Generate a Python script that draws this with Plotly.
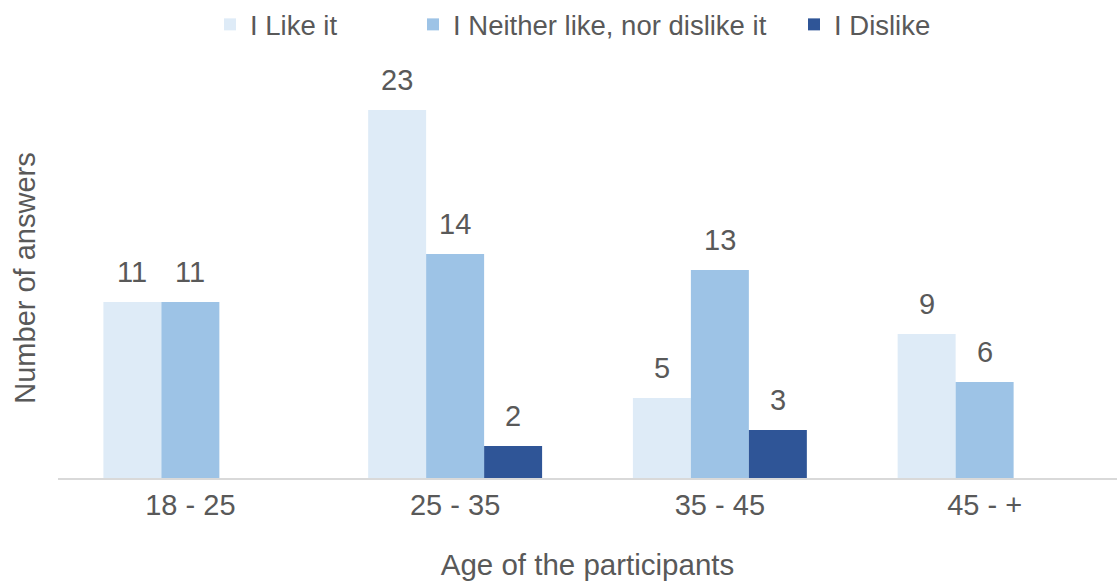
import plotly.graph_objects as go

# Survey results grouped by age bracket
age_groups = ["18 - 25", "25 - 35", "35 - 45", "45 - +"]
like_it = [11, 23, 5, 9]
neither = [11, 14, 13, 6]
dislike = [None, 2, 3, None]

series = [
    ("I Like it", like_it, "#DEEBF7", 158),
    ("I Neither like, nor dislike it", neither, "#9DC3E6", 336),
    ("I Dislike", dislike, "#2F5597", None),
]

TEXT = "#595959"
FONT = "Liberation Sans, Arial, sans-serif"
BARGAP = 0.343

fig = go.Figure()
for name, vals, color, lw in series:
    kw = {"legendwidth": lw} if lw else {}
    fig.add_trace(go.Bar(
        name=name, x=age_groups, y=vals,
        marker=dict(color=color, line=dict(width=0)),
        hoverinfo="x+y+name",
        **kw,
    ))

# value labels above each bar
n = len(series)
w = (1 - BARGAP) / n
for k, (name, vals, color, _) in enumerate(series):
    for i, v in enumerate(vals):
        if v is None:
            continue
        fig.add_annotation(
            x=i + (k - (n - 1) / 2) * w, y=v, text=str(v),
            showarrow=False, yanchor="bottom", yshift=12,
            font=dict(size=29, color=TEXT, family=FONT),
        )

fig.update_layout(
    width=1117, height=583,
    margin=dict(l=58, r=0, t=76, b=105),
    paper_bgcolor="white", plot_bgcolor="white",
    barmode="group", bargap=BARGAP, bargroupgap=0,
    font=dict(family=FONT, size=29, color=TEXT),
    showlegend=True,
    legend=dict(
        orientation="h", x=(210 - 58) / 1059, xanchor="left",
        y=1.134, yanchor="middle",
        font=dict(size=27.5, color=TEXT), itemwidth=30,
        bgcolor="rgba(0,0,0,0)",
    ),
    xaxis=dict(
        showgrid=False, showline=True, linecolor="#D9D9D9", linewidth=2,
        ticks="", tickfont=dict(size=29, color=TEXT),
        title=dict(text="Age of the participants", font=dict(size=29.5, color=TEXT), standoff=35),
        automargin=False,
    ),
    yaxis=dict(
        range=[0, 25], showgrid=False, zeroline=False, showline=False,
        showticklabels=False, ticks="",
        title=dict(text="Number of answers", font=dict(size=29, color=TEXT), standoff=12),
        automargin=False,
    ),
)

fig.write_html("out.html")
